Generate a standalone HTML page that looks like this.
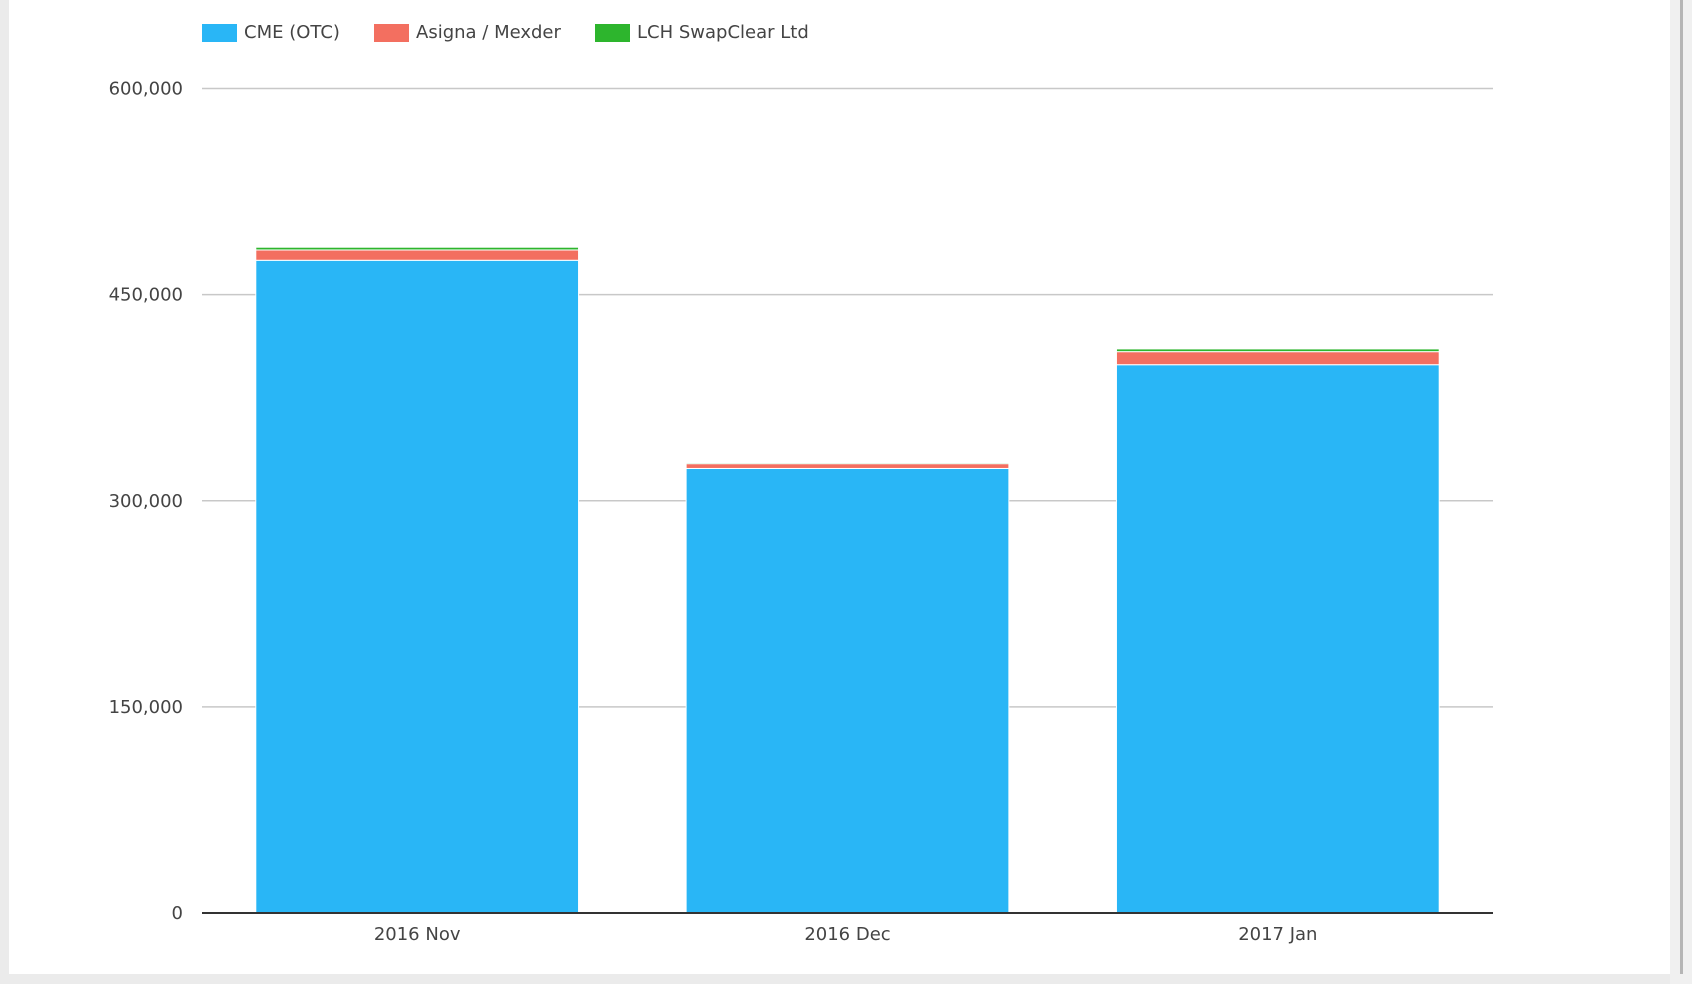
<!DOCTYPE html>
<html><head><meta charset="utf-8"><style>
body{margin:0;width:1692px;height:984px;background:#fff;overflow:hidden;font-family:"DejaVu Sans","Liberation Sans",sans-serif;position:relative}
.strip{position:absolute;background:#ebebeb}
.leg{position:absolute;top:22px;font-size:18px;color:#444;display:flex;align-items:center}
.sw{width:35px;height:18px;margin-right:7px}
</style></head><body>
<div class="strip" style="left:0;top:0;width:9px;height:984px"></div>
<div class="strip" style="left:0;top:974px;width:1692px;height:10px"></div>
<div class="strip" style="left:1670px;top:0;width:22px;height:984px;background:#f0f0f0"></div>
<div style="position:absolute;left:1680px;top:0;width:3px;height:974px;background:#b5b5b5"></div>
<div class="leg" style="left:202px"><div class="sw" style="background:#29b6f6"></div>CME (OTC)</div>
<div class="leg" style="left:374px"><div class="sw" style="background:#f36f60"></div>Asigna / Mexder</div>
<div class="leg" style="left:595px"><div class="sw" style="background:#2db52d"></div>LCH SwapClear Ltd</div>
<svg id="chart" width="1692" height="984" style="position:absolute;left:0;top:0"></svg>
<script>
const categories=["2016 Nov","2016 Dec","2017 Jan"];
const cme=[475000,323500,399000];
const asigna=[7500,3500,9500];
const lch=[2000,800,2000];
const yTicks=[0,150000,300000,450000,600000];
const yTickLabels=["0","150,000","300,000","450,000","600,000"];
const NS="http://www.w3.org/2000/svg";
const svg=document.getElementById('chart');
const x0=202,x1=1493,yTop=88.5,yBot=913,yMax=600000;
const y=v=>yBot-(v/yMax)*(yBot-yTop);
const band=(x1-x0)/categories.length;
const bx=i=>x0+band*i+band*0.125;
const bw=band*0.75;
function mk(t,a){const e=document.createElementNS(NS,t);for(const k in a)e.setAttribute(k,a[k]);svg.appendChild(e);return e;}
yTicks.forEach((v,i)=>{
 if(v>0){const g=mk('line',{x1:x0,x2:x1,y1:y(v),y2:y(v),stroke:'#c8c8c8','stroke-width':1.5});
 
 }
 const t=mk('text',{x:183,y:y(v)+6,'text-anchor':'end','font-size':18,fill:'#444'});
 t.textContent=yTickLabels[i];
 
 
});
const series=[[cme,'#29b6f6','cme'],[asigna,'#f36f60','asigna'],[lch,'#2db52d','lch']];
categories.forEach((c,i)=>{
 let base=0;
 series.forEach(([arr,col,nm])=>{
  const top=base+arr[i];
  const r=mk('rect',{x:bx(i),y:y(top),width:bw,height:y(base)-y(top),fill:col,stroke:'#fff','stroke-width':1});
  
  
  base=top;
 });
 const t=mk('text',{x:bx(i)+bw/2,y:940,'text-anchor':'middle','font-size':18,fill:'#444'});
 t.textContent=c;
 
 
});
const ax=mk('line',{x1:x0,x2:x1,y1:yBot,y2:yBot,stroke:'#333','stroke-width':2});


</script>
</body></html>
